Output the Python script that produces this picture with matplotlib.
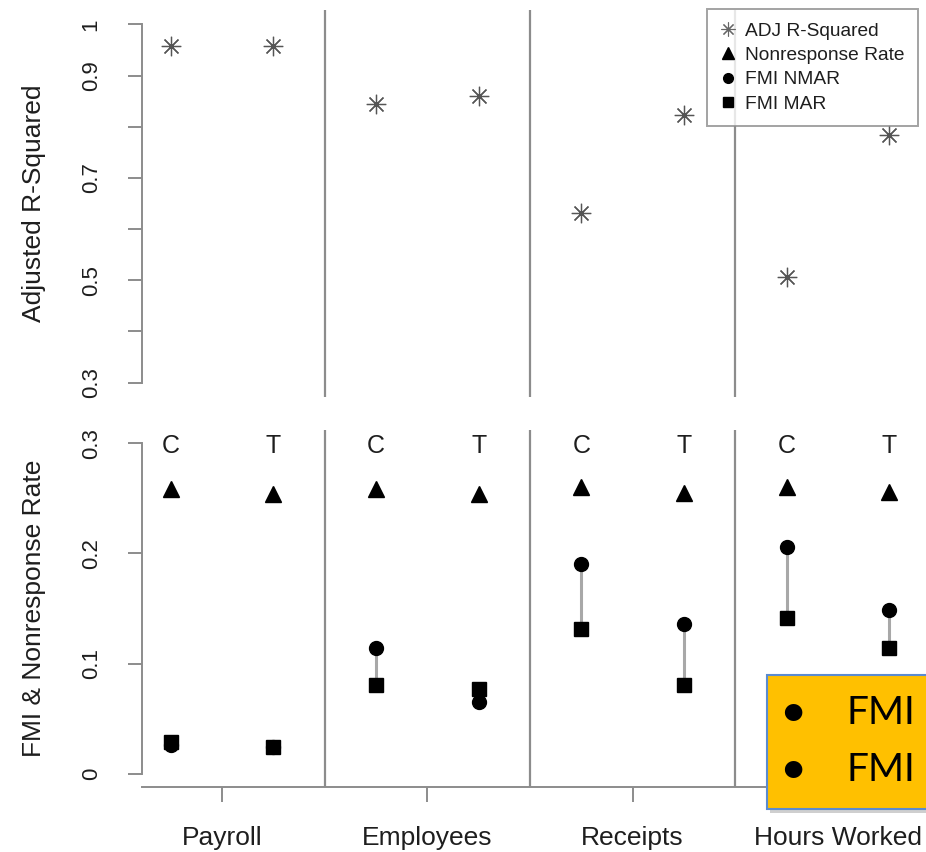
import matplotlib
matplotlib.use("Agg")
import matplotlib.pyplot as plt
from matplotlib.lines import Line2D
from matplotlib.patches import Rectangle
import numpy as np

plt.rcParams['font.family'] = ['Liberation Sans', 'DejaVu Sans']

# ---- data ----
categories = ["Payroll", "Employees", "Receipts", "Hours Worked"]
conditions = ["C", "T"]
adj_r2 = [0.957, 0.958, 0.845, 0.860, 0.631, 0.823, 0.507, 0.783]
nonresp = [0.258, 0.254, 0.258, 0.254, 0.260, 0.255, 0.260, 0.256]
fmi_nmar = [0.026, 0.024, 0.114, 0.065, 0.190, 0.136, 0.206, 0.149]
fmi_mar = [0.029, 0.024, 0.081, 0.077, 0.131, 0.081, 0.141, 0.114]
top_ticks = [0.3, 0.4, 0.5, 0.6, 0.7, 0.8, 0.9, 1.0]
top_labels = ["0.3", "", "0.5", "", "0.7", "", "0.9", "1"]
bot_ticks = [0.0, 0.1, 0.2, 0.3]
bot_labels = ["0", "0.1", "0.2", "0.3"]
legend_labels = ["ADJ R-Squared", "Nonresponse Rate", "FMI NMAR", "FMI MAR"]
overlay_lines = ["FMI", "FMI"]

# ---- positions ----
grp = np.arange(1, len(categories) + 1)
xpos = np.ravel([[g - 0.25, g + 0.25] for g in grp])
cond_lab = conditions * len(categories)

W, H = 926, 852
fig = plt.figure(figsize=(W / 100, H / 100), dpi=100)
L, R = 142 / W, 918 / W
ax1 = fig.add_axes([L, 1 - 397 / H, R - L, (397 - 10) / H])
ax2 = fig.add_axes([L, 1 - 787 / H, R - L, (787 - 430) / H])

axcol = "#8c8c8c"
txtcol = "#1e1e1e"
fs_tick = 16
fs_lab = 19

for ax in (ax1, ax2):
    ax.set_xlim(0.61, 4.39)
    for s in ax.spines.values():
        s.set_visible(False)
    ax.spines['left'].set_visible(True)
    ax.spines['left'].set_color(axcol)
    ax.spines['left'].set_linewidth(1.4)
    ax.tick_params(axis='y', direction='out', length=10, width=1.4, color=axcol,
                   labelsize=fs_tick, labelcolor=txtcol, pad=19)
    for xv in grp[:-1] + 0.5:
        ax.axvline(xv, color=axcol, lw=1.6, zorder=1)

# top panel
ax1.set_ylim(0.272, 1.028)
ax1.spines['left'].set_bounds(0.3, 1.0)
ax1.set_yticks(top_ticks)
ax1.set_yticklabels(top_labels, rotation=90, va='center')
ax1.set_xticks([])
ax1.plot(xpos, adj_r2, linestyle='none', marker=(8, 2, 0), ms=14, mew=0.9,
         color="#555555", zorder=3)
ax1.set_ylabel("Adjusted R-Squared", fontsize=fs_lab, color=txtcol)
ax1.yaxis.set_label_coords(-0.124, 0.5)

handles = [
    Line2D([], [], ls='none', marker=(8, 2, 0), ms=10, mew=0.8, color="#666666"),
    Line2D([], [], ls='none', marker='^', ms=8, color='black'),
    Line2D([], [], ls='none', marker='o', ms=7, color='black'),
    Line2D([], [], ls='none', marker='s', ms=6.5, color='black'),
]
leg = ax1.legend(handles, legend_labels, loc='upper right', bbox_to_anchor=(1.0, 1.003),
                 fontsize=13.8, frameon=True, fancybox=False, handlelength=0.8,
                 handletextpad=0.5, borderpad=0.7, labelspacing=0.36, borderaxespad=0.0)
leg.get_frame().set_edgecolor(axcol)
leg.get_frame().set_linewidth(1.4)
for t in leg.get_texts():
    t.set_color(txtcol)

# bottom panel
ax2.set_ylim(-0.012, 0.312)
ax2.spines['left'].set_bounds(0.0, 0.3)
ax2.set_yticks(bot_ticks)
ax2.set_yticklabels(bot_labels, rotation=90, va='center')
ax2.spines['bottom'].set_visible(True)
ax2.spines['bottom'].set_color(axcol)
ax2.spines['bottom'].set_linewidth(1.4)
ax2.set_xticks(grp)
ax2.set_xticklabels(categories)
ax2.tick_params(axis='x', direction='out', length=11, width=1.4, color=axcol,
                labelsize=fs_lab, labelcolor=txtcol, pad=17)
ax2.vlines(xpos, fmi_mar, fmi_nmar, color="#a8a8a8", lw=2.2, zorder=2)
ax2.plot(xpos, nonresp, ls='none', marker='^', ms=11.5, color='black', zorder=3)
ax2.plot(xpos, fmi_nmar, ls='none', marker='o', ms=10, color='black', zorder=3)
ax2.plot(xpos, fmi_mar, ls='none', marker='s', ms=9.5, color='black', zorder=4)
for x, lab in zip(xpos, cond_lab):
    ax2.text(x, 0.2975, lab, ha='center', va='center', fontsize=18, color=txtcol)
ax2.set_ylabel("FMI & Nonresponse Rate", fontsize=fs_lab, color=txtcol)
ax2.yaxis.set_label_coords(-0.124, 0.5)

# orange overlay box (slide annotation)
bx0, by0 = 767 / W, 1 - 809 / H
bw, bh = 200 / W, (809 - 675) / H
fig.patches.append(Rectangle((bx0 + 3 / W, by0 - 4 / H), bw, bh, transform=fig.transFigure,
                             facecolor="#b0b0b0", edgecolor='none', alpha=0.6, zorder=5))
fig.patches.append(Rectangle((bx0, by0), bw, bh, transform=fig.transFigure,
                             facecolor="#FFC000", edgecolor="#5B8BD0", lw=1.5, zorder=6))
for i, s in enumerate(overlay_lines):
    yy = 1 - (713 + 57 * i) / H
    fig.text(793 / W, yy, "\u2022", fontsize=34, ha='center', va='center',
             family=['Lato', 'DejaVu Sans'], zorder=7, color='black')
    fig.text(847 / W, yy, s, fontsize=28, ha='left', va='center',
             family=['Lato', 'DejaVu Sans'], zorder=7, color='black')

fig.savefig("out.png", dpi=100)
